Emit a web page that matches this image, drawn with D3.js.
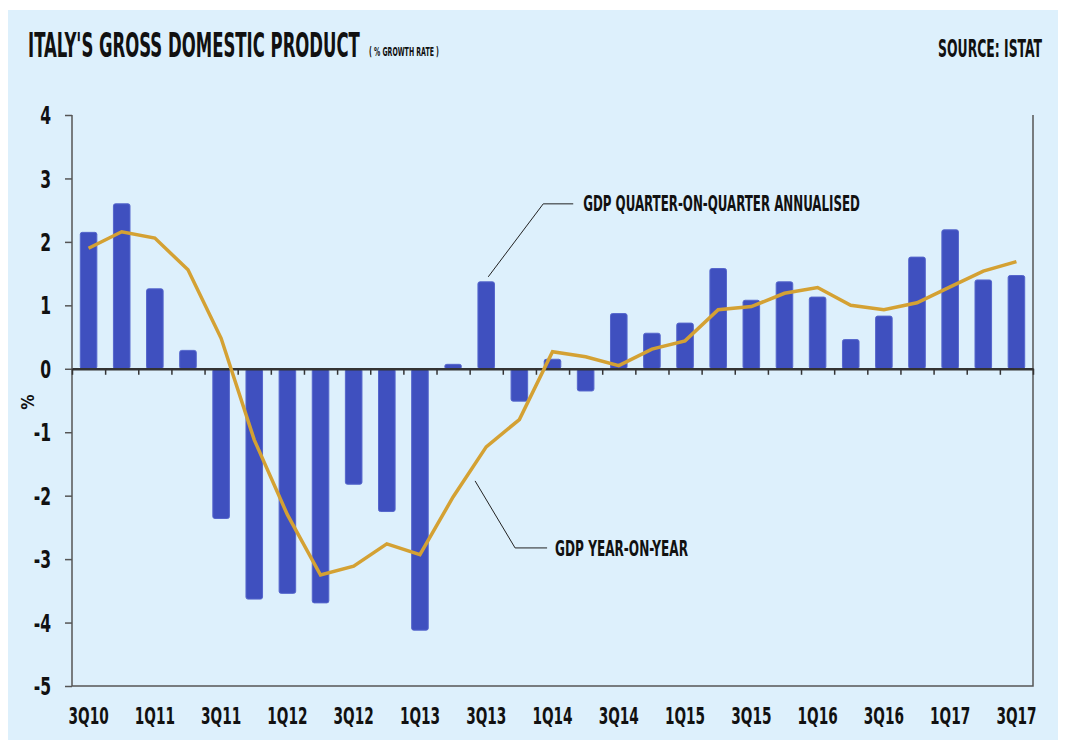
<!DOCTYPE html>
<html>
<head>
<meta charset="utf-8">
<script src="https://cdn.jsdelivr.net/npm/d3@7"></script>
<style>
  body { margin: 0; background: #fff; }
  text { font-family: "DejaVu Sans Condensed", "DejaVu Sans", sans-serif; font-weight: bold; fill: #111; }
</style>
</head>
<body>
<div id="chart"></div>
<script>
const quarters = ["3Q10","4Q10","1Q11","2Q11","3Q11","4Q11","1Q12","2Q12","3Q12","4Q12",
  "1Q13","2Q13","3Q13","4Q13","1Q14","2Q14","3Q14","4Q14","1Q15","2Q15","3Q15","4Q15",
  "1Q16","2Q16","3Q16","4Q16","1Q17","2Q17","3Q17"];
// GDP quarter-on-quarter annualised (bars)
const qoq = [2.15, 2.60, 1.26, 0.29, -2.36, -3.63, -3.54, -3.69, -1.82, -2.25,
  -4.12, 0.07, 1.37, -0.51, 0.15, -0.35, 0.87, 0.56, 0.72, 1.58, 1.08,
  1.37, 1.13, 0.46, 0.83, 1.76, 2.19, 1.40, 1.47];
// GDP year-on-year (line)
const yoy = [1.90, 2.16, 2.06, 1.56, 0.48, -1.12, -2.30, -3.25, -3.11, -2.76,
  -2.93, -2.02, -1.23, -0.80, 0.27, 0.19, 0.05, 0.31, 0.44, 0.93, 0.98,
  1.19, 1.28, 1.00, 0.93, 1.04, 1.29, 1.54, 1.69];
const yTicks = [-5, -4, -3, -2, -1, 0, 1, 2, 3, 4];
const xLabels = ["3Q10","1Q11","3Q11","1Q12","3Q12","1Q13","3Q13","1Q14","3Q14","1Q15","3Q15","1Q16","3Q16","1Q17","3Q17"];

const width = 1066, height = 744;
const margin = { left: 72, right: 1033, top: 115, bottom: 686 };

const svg = d3.select('#chart').append('svg')
  .attr('width', width).attr('height', height);

svg.append('rect')
  .attr('x', 8).attr('y', 10).attr('width', 1050).attr('height', 730)
  .attr('fill', '#ddf0fc');

// squeeze text horizontally to mimic the condensed display font
function condense(sel, k) {
  sel.each(function() {
    const w = this.getComputedTextLength();
    d3.select(this).attr('textLength', w * k).attr('lengthAdjust', 'spacingAndGlyphs');
  });
}
// place a text at (x0, y0) and scale it horizontally to a given width
function fitText(sel, x0, y0, len) {
  sel.each(function() {
    const w = this.getComputedTextLength();
    d3.select(this).attr('transform', `translate(${x0},${y0}) scale(${len / w},1)`);
  });
}

const x = d3.scaleBand()
  .domain(quarters)
  .range([margin.left, margin.right])
  .paddingInner(0.5)
  .paddingOuter(0.25);

const xEdge = d3.scaleLinear().domain([0, quarters.length]).range([margin.left, margin.right]);

const y = d3.scaleLinear()
  .domain([-5, 4])
  .range([margin.bottom, margin.top]);

// frame
svg.append('path')
  .attr('d', `M${margin.left},${margin.top}V${margin.bottom}H${margin.right}V${margin.top}`)
  .attr('fill', 'none').attr('stroke', '#555').attr('stroke-width', 1.5);

// y axis
const yAxis = svg.append('g')
  .attr('transform', `translate(${margin.left},0)`)
  .call(d3.axisLeft(y).tickValues(yTicks).tickSize(7).tickPadding(14).tickFormat(d => d < 0 ? '-' + Math.abs(d) : d));
yAxis.select('.domain').remove();
yAxis.selectAll('line').attr('stroke', '#555').attr('stroke-width', 1.5);
yAxis.selectAll('text')
  .attr('font-size', 24).attr('font-family', null).attr('dy', '0.36em')
  .call(condense, 0.72);

// bars
svg.append('g')
  .selectAll('rect')
  .data(qoq)
  .join('rect')
    .attr('x', (d, i) => x(quarters[i]))
    .attr('y', d => y(Math.max(0, d)))
    .attr('width', x.bandwidth())
    .attr('height', d => Math.abs(y(d) - y(0)))
    .attr('rx', 2)
    .attr('fill', '#3f50bf')
    .attr('stroke', '#5566cc')
    .attr('stroke-width', 1);

// zero line with quarter ticks
const zero = svg.append('g')
  .attr('transform', `translate(0,${y(0)})`)
  .call(d3.axisBottom(xEdge).tickValues(d3.range(quarters.length + 1)).tickSize(6).tickSizeOuter(0).tickFormat(''));
zero.select('.domain').attr('stroke', '#333').attr('stroke-width', 2.5);
zero.selectAll('line').attr('stroke', '#333').attr('stroke-width', 1.5);

// line
const line = d3.line()
  .x((d, i) => x(quarters[i]) + x.bandwidth() / 2)
  .y(d => y(d));
svg.append('path')
  .datum(yoy)
  .attr('d', line)
  .attr('fill', 'none')
  .attr('stroke', '#d4a133')
  .attr('stroke-width', 3.5);

// x labels
const xAxis = svg.append('g')
  .attr('transform', `translate(0,${margin.bottom})`)
  .call(d3.axisBottom(x).tickValues(xLabels).tickSize(0).tickPadding(22));
xAxis.select('.domain').remove();
xAxis.selectAll('text')
  .attr('font-size', 23).attr('font-family', null).attr('dy', '0.71em')
  .call(condense, 0.66);

// y title
svg.append('text')
  .attr('transform', 'translate(34,402) rotate(-90)')
  .attr('text-anchor', 'middle')
  .attr('font-size', 17)
  .text('%');

// titles
svg.append('text')
  .attr('font-size', 33)
  .text("ITALY'S GROSS DOMESTIC PRODUCT")
  .call(fitText, 28, 57, 332);
svg.append('text')
  .attr('font-size', 12.5)
  .text('( % GROWTH RATE )')
  .call(fitText, 369, 56, 70);
svg.append('text')
  .attr('text-anchor', 'end')
  .attr('font-size', 24)
  .text('SOURCE: ISTAT')
  .call(fitText, 1042, 57, 104);

// annotations
const cx = i => x(quarters[i]) + x.bandwidth() / 2;
const qa = [cx(12) + 2, y(qoq[12]) - 5];
svg.append('path')
  .attr('d', `M${qa[0]},${qa[1]}L${qa[0] + 55},${qa[1] - 73}H${qa[0] + 85}`)
  .attr('fill', 'none').attr('stroke', '#222').attr('stroke-width', 1);
svg.append('text')
  .attr('font-size', 21)
  .text('GDP QUARTER-ON-QUARTER ANNUALISED')
  .call(fitText, qa[0] + 95, qa[1] - 66, 277);

const ya = [cx(11) + 22, y(yoy[11]) - 16];
svg.append('path')
  .attr('d', `M${ya[0]},${ya[1]}L${ya[0] + 40},${ya[1] + 67}H${ya[0] + 72}`)
  .attr('fill', 'none').attr('stroke', '#222').attr('stroke-width', 1);
svg.append('text')
  .attr('font-size', 21)
  .text('GDP YEAR-ON-YEAR')
  .call(fitText, ya[0] + 80, ya[1] + 75, 133);
</script>
</body>
</html>
